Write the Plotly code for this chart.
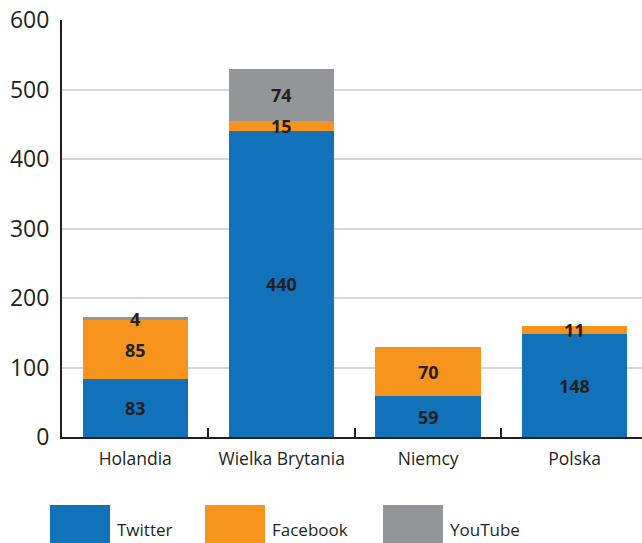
import plotly.graph_objects as go

categories = ["Holandia", "Wielka Brytania", "Niemcy", "Polska"]
twitter = [83, 440, 59, 148]
facebook = [85, 15, 70, 11]
youtube = [4, 74, 0, 0]
series_names = ["Twitter", "Facebook", "YouTube"]
y_ticks = [0, 100, 200, 300, 400, 500, 600]

colors = ["#1172BA", "#F7941D", "#939598"]
dark = "#231F20"
font_family = "Open Sans, Noto Sans, sans-serif"

series = [twitter, facebook, youtube]

fig = go.Figure()
for name, vals, col in zip(series_names, series, colors):
    fig.add_trace(go.Bar(x=categories, y=vals, name=name, marker=dict(color=col, line=dict(width=0)),
                         showlegend=False))

# value labels centred in each segment
base = [0] * len(categories)
for vals in series:
    for i, v in enumerate(vals):
        if v > 0:
            fig.add_annotation(x=categories[i], y=base[i] + v / 2, text=str(v), showarrow=False,
                               font=dict(family=font_family, size=18, color=dark, weight="bold"),
                               xref="x", yref="y")
        base[i] += v

# custom legend
leg_x = [50, 205, 383]
W, H = 642, 543
for (name, col, lx) in zip(series_names, colors, leg_x):
    fig.add_shape(type="rect", xref="paper", yref="paper",
                  x0=(lx - 62) / 580, x1=(lx + 60 - 62) / 580,
                  y0=-(545 - 437) / 417, y1=-(505 - 437) / 417,
                  fillcolor=col, line=dict(width=0))
    fig.add_annotation(xref="paper", yref="paper", x=(lx + 65 - 62) / 580, y=-(529 - 437) / 417,
                       text=name, showarrow=False, xanchor="left", yanchor="middle",
                       font=dict(family=font_family, size=17, color=dark))

fig.update_layout(
    width=W, height=H,
    margin=dict(l=62, r=0, t=20, b=106),
    barmode="stack", bargap=0.28,
    plot_bgcolor="white", paper_bgcolor="white",
    font=dict(family=font_family, color=dark),
    xaxis=dict(range=[-0.5, 3.46], showline=True, linecolor=dark, linewidth=2,
               ticks="inside", tickson="boundaries", ticklen=9, tickwidth=2, tickcolor=dark,
               tickfont=dict(size=17.5, color=dark), ticklabelstandoff=5,
               showgrid=False, fixedrange=True),
    yaxis=dict(range=[0, 600], tickvals=y_ticks, showline=True, linecolor=dark, linewidth=2,
               showgrid=True, gridcolor="#D6D6D6", gridwidth=1.5, zeroline=False,
               ticks="", tickfont=dict(size=23, color=dark), ticklabelstandoff=6),
)

fig.write_html("out.html")
